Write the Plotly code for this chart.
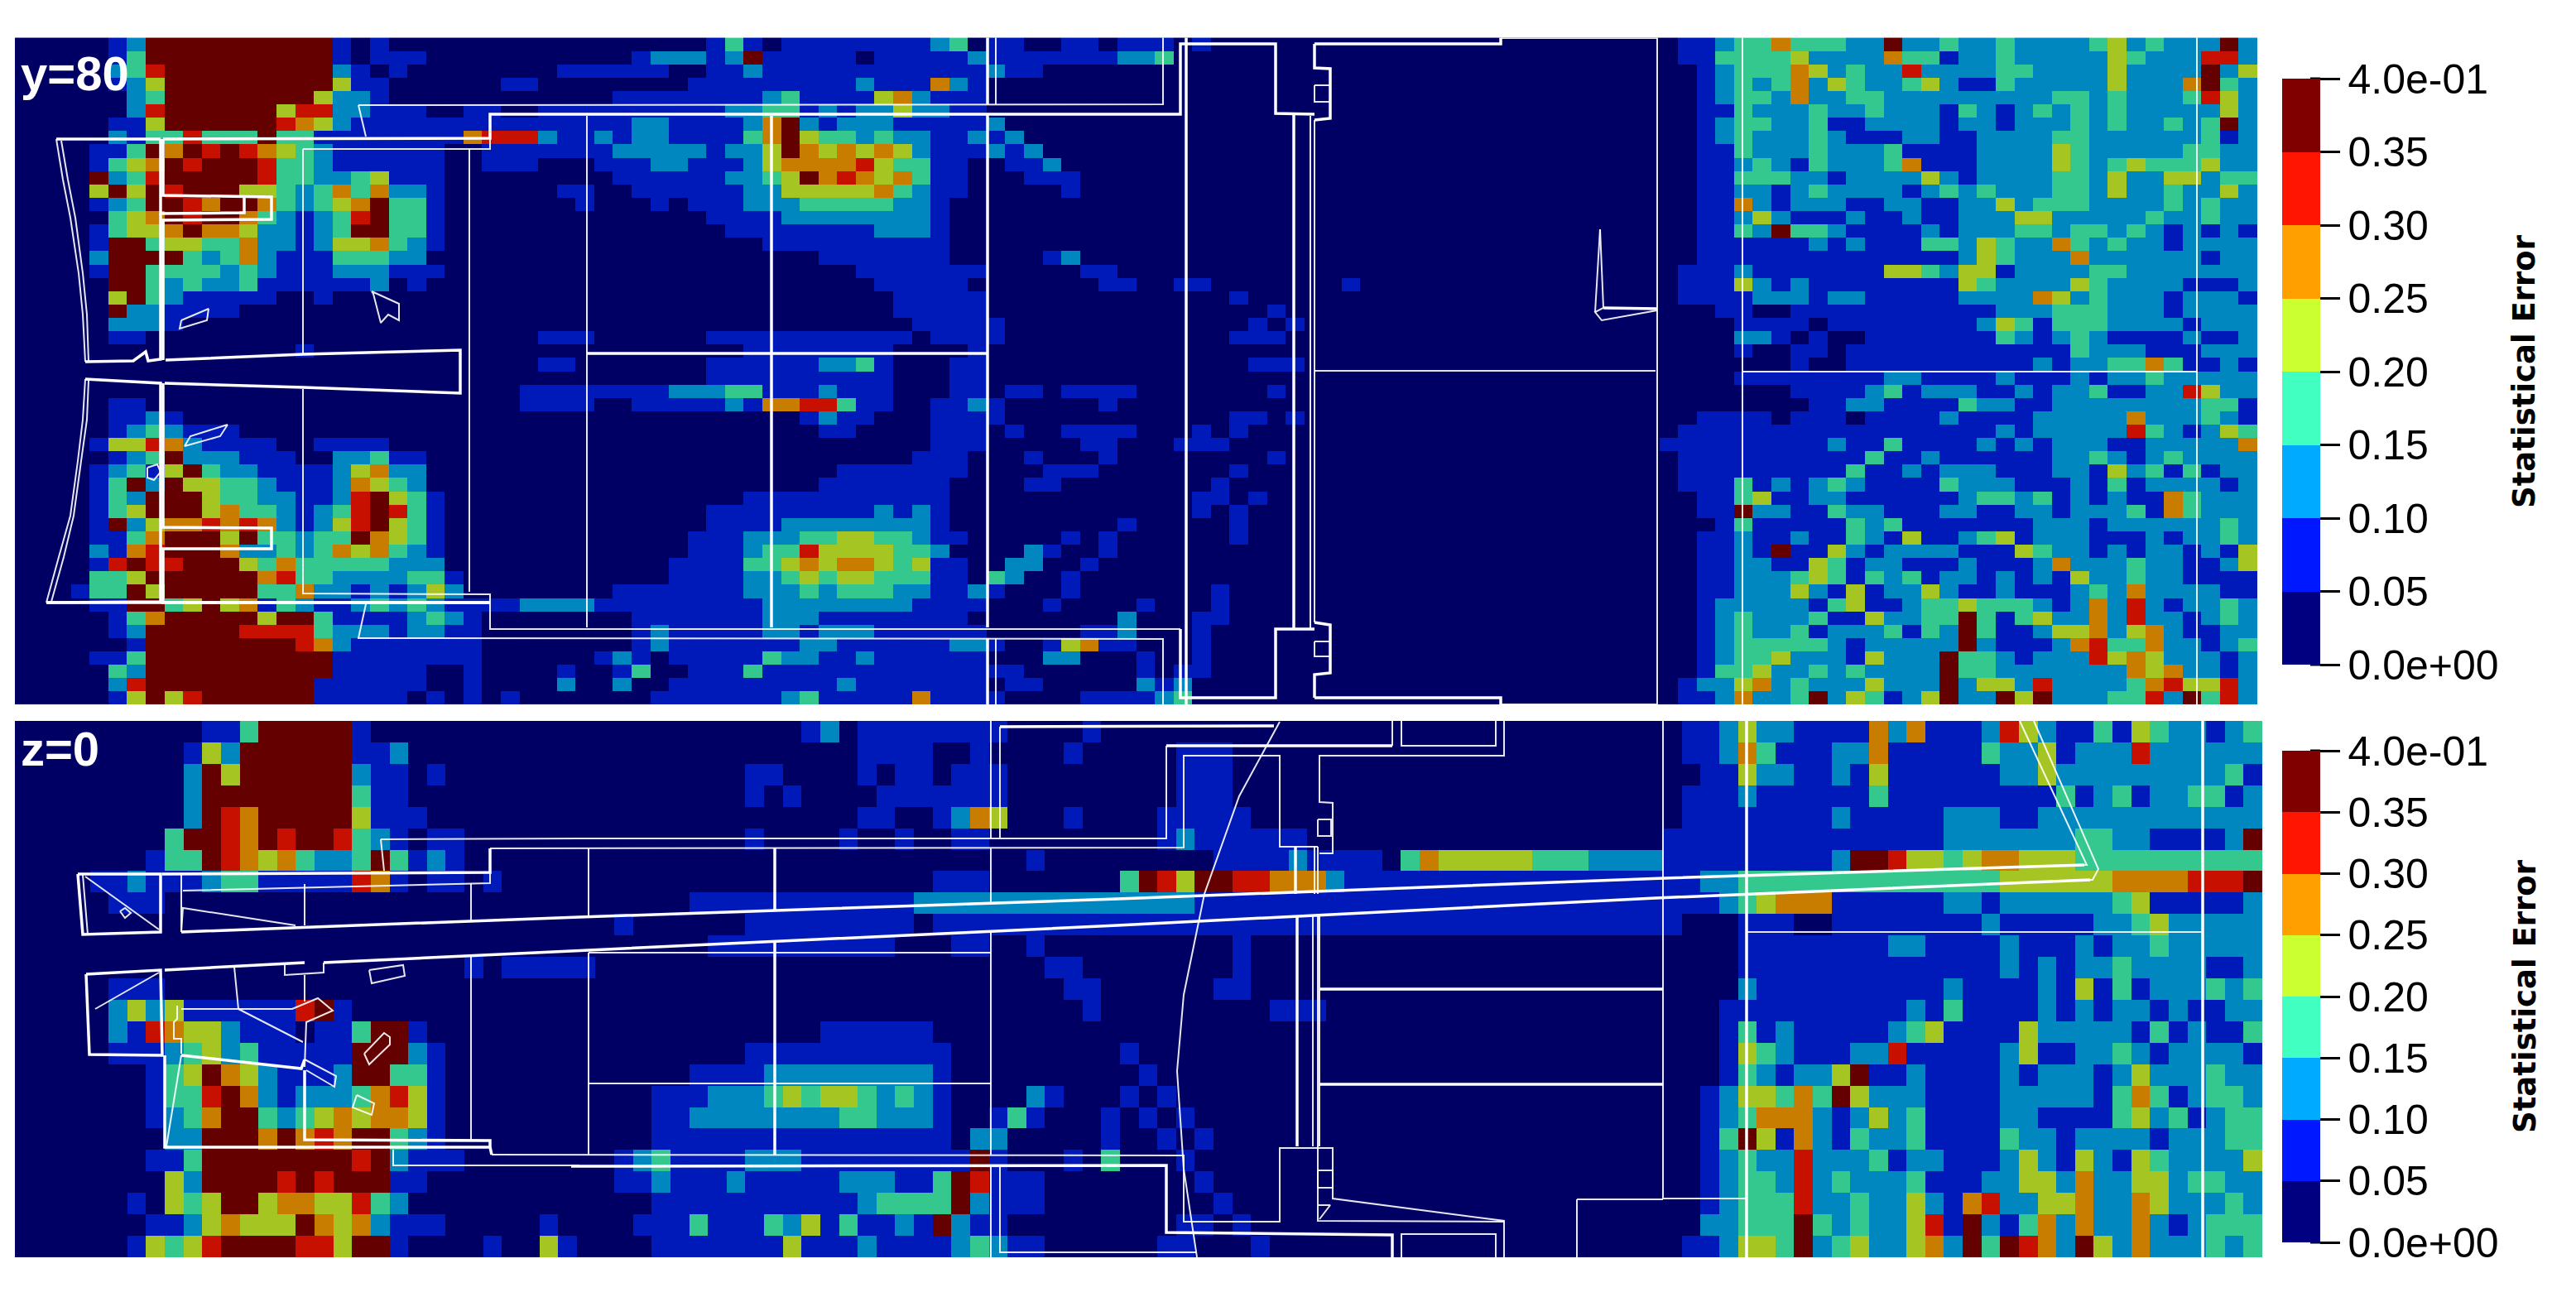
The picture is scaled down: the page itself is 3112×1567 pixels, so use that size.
import plotly.graph_objects as go

W, H = 3112, 1567
N_COLS = 120
BAND_STEP = 0.05

# colour class of every cell (class k means value in [k*0.05,(k+1)*0.05))
top_left_rows = [
"5:1 6:2 7-16:7 17:1 19:1 37:1 38:3 39:1 41-48:1 49:2 50:3 52-53:1 56-57:1 59-61:1 63:1",
"5:1 6:3 7-16:7 17:1 19-21:1 33:1 34-36:2 37:1 38:2 39:7 40-44:1 46-50:1 51:2 52-58:1 59-60:2 61:3",
"5:2 6:3 7:6 8-16:7 17:2 18:1 20:1 29:1 30-34:1 37-38:1 39:2 40-51:1 52:2 53-54:1",
"5:1 6:2 7:4 8-16:7 17:4 18-19:1 26-27:1 36-44:1 45:2 46-48:1 49:5 50:2 51:1",
"6:2 7:3 8-15:7 16:4 17-18:2 19:1 32-39:1 40:2 41:3 42-45:1 46:4 47:5 48:2 49-51:1",
"6:2 7:6 8-13:7 14:4 15-16:6 17-18:2 19-21:1 24-25:1 28-29:1 30-37:1 38-39:2 40-41:3 42:1 43:2 44:1 45-46:2 47:4 48-49:2 50-51:1",
"5-6:1 7:4 8-13:7 14:6 15:5 16:4 17:2 18-29:1 30-32:1 33-34:2 35-38:1 39:2 40:5 41:7 42:2 43:1 44-46:2 47-51:1 52:2",
"5:2 6:1 7-8:3 9:6 10-12:3 13:7 14-15:3 16-23:1 24:5 25-27:6 28:2 29-30:1 31:2 32:1 33-34:2 35-38:1 39:3 40:5 41:7 42:4 43-44:3 45:2 46:3 47-48:2 49-50:1 51:2 52:1 53:2",
"4-5:1 6:3 7:7 8:5 9:7 10:6 11:7 12:6 13:5 14:4 15:3 16:2 17-22:1 25-29:1 30-31:1 32-36:2 37:1 38-39:2 40:4 41:7 42:5 43:4 44:5 45:4 46:5 47:4 48:2 49-51:1 52:2 53:1 54:2",
"4:1 5:3 6:4 7:5 8:7 9:6 10-12:7 13:6 14-15:3 16:2 17-22:1 25-27:1 31-33:1 34-35:2 36-38:1 39:2 40:4 41-44:5 45:6 46:4 47-48:3 49-50:1 53-54:1 55:2",
"4:7 5:2 6:3 7:6 8-12:7 13:6 14-15:3 16-17:2 18:3 19:4 20-22:1 32-37:1 38-39:2 40:3 41:4 42:7 43:5 44:6 45:5 46:4 47:5 48:3 49-50:1 54-56:1",
"4:4 5:7 6:4 7:7 8:6 9-11:7 12-13:4 14:3 15:2 16:3 17:5 18:3 19:5 20-21:2 22:1 29-30:1 33-38:1 39-40:2 41-45:4 46:5 47:3 48:2 49-50:1 56:1",
"4:1 5:2 6:3 7-8:7 9:6 10:5 11-12:7 13:5 14:3 15:2 16:3 17:4 18:5 19:7 20-21:3 22:1 30:1 34:1 36-38:1 39-41:2 42-46:3 47-48:2 49:1",
"5:3 6:4 7:5 8:7 9:6 10-11:7 12:5 13:3 14:2 15:1 16:2 17:3 18:6 19:7 20-21:3 22:1 37-40:1 41-48:2 49:1",
"4:1 5:3 6-7:4 8:5 9:7 10-11:5 12:4 13-14:2 15:1 16:2 17:3 18-19:7 20-21:3 22:1 38-45:1 46-48:2 49:1",
"4:1 5-6:7 7:3 8-9:4 10-11:3 12:5 13-14:2 15:1 16:2 17-18:4 19:5 20:3 21:2 22:1 40-49:1",
"4:2 5-8:7 9:3 10:2 11:3 12:5 13:2 14-16:1 17-19:3 20-21:2 43-49:1 55:1 56:2",
"4:1 5-6:7 7-10:3 11:2 12:3 13:2 14-16:1 17-19:2 20-22:1 45-51:1 57-58:1",
"5-6:7 7:3 8:2 9:3 10-11:2 12:3 13-18:1 19:2 21:1 46-50:1 58:1 59:1 62-63:1 71:1",
"5:4 6:7 7:3 8:2 9-13:1 16:1 47-51:1 65:1",
"5:7 6-7:2 8-11:1 47-51:1 67:1",
"5-7:2 8:1 48-51:1 52:1 66:1 68:1",
"5-6:1 28-30:1 37-47:1 49-52:1 65-67:1",
"15:1 39-46:1 51:1",
"28-29:1 37-42:1 43-44:2 45:3 46:1 50-51:1 66-68:1",
"37-46:1 50-51:1",
"27-29:1 30-34:1 35-37:2 38-39:3 40-42:1 43:2 44-46:1 50-51:1 53-54:1 56-58:1 59:1 67:1",
"5-6:1 27-29:1 30:1 33-37:1 38:2 39:1 40-41:5 42-43:6 44:3 45-46:1 49-50:1 51:2 52:1 58:1",
"5-6:1 7:2 8:1 42:1 43:2 44-45:1 49-52:1 65-66:1 68:1",
"5:1 6:2 7:3 8:2 9-11:1 43-44:1 49-51:1 53:1 56-58:1 59:1 63:1 65:1",
"4:1 5-6:4 7:6 8:5 9:2 10-13:1 16-19:1 49-51:1 57-58:1 62-64:1",
"5:1 6:2 7:3 8:7 9-11:2 12-14:1 17-18:2 19:3 20-21:1 48-50:1 54:1 58:1 67:1",
"4:1 5:2 6:3 7:1 8:4 9:7 10:3 11-12:2 13-16:1 17:2 18:4 19:5 20-21:2 44-50:1 55-57:1 65:1",
"4:1 5:3 6:7 7:2 8:7 9-10:4 11-12:3 13:2 14-16:1 17:2 18:5 19:4 20:3 21:2 43-49:1 54-55:1 64:1",
"4:1 5:3 6:2 7-9:7 10:4 11-12:3 13-14:2 15-16:1 17:2 18:6 19:7 20:4 21:3 22:1 39-49:1 63-64:1 66:1",
"4:1 5:3 6:4 7-9:7 10:4 11:5 12-13:3 14:2 15:1 16:2 17:3 18:6 19:7 20:6 21:3 22:1 37-45:1 46:2 47:1 48:2 49:1 63:1 65:1",
"4:1 5:7 6:2 7:4 8-9:5 10:6 11:5 12:6 13:5 14:2 15:1 16:2 17:4 18:6 19:7 20:4 21:3 22:1 37-40:1 41-48:2 49:1 59:1 65:1",
"4-5:1 6:3 7:5 8-10:7 11:4 12:7 13-14:3 15:2 16-17:3 18:7 19:5 20:4 21:3 22:1 36-38:1 39-41:2 42-43:3 44-45:4 46-47:3 48:2 49-50:1 56:1 58:1 65:1",
"4:2 5:1 6:5 7:6 8-10:7 11:5 12-13:2 14:3 15:2 16:3 17:5 18:4 19:5 20:3 21:2 22:1 36-38:1 39:2 40-41:3 42:6 43-46:4 47-48:3 49:2 54:2 55:1 58:1",
"4:1 5:6 6:7 7-8:6 9-11:7 12:4 13:3 14:5 15-19:3 20-22:2 35-38:1 39-40:3 41:4 42:5 43:4 44-45:5 46:4 47:3 48:4 49-50:1 53-54:2 57:1",
"4-5:3 6:4 7-12:7 13:5 14:6 15-16:3 17-20:2 21-22:3 23:1 35-38:1 39-40:2 41:3 42:4 43:3 44-45:4 46-48:3 49-50:1 52:3 53:2 56:1",
"3:1 4-5:3 6:7 7:4 8-12:7 13-14:3 15:5 16-17:2 18:1 19:2 20:1 21:2 22:4 23:2 32-38:1 39-41:2 42:3 43:2 44-46:3 47-48:2 49-50:1 51:2 52:1 56:1 64:1",
"4-5:1 6-7:7 8:3 9:4 10:7 11:4 12:5 13:1 14:3 15:2 16-17:1 18:2 19:3 20:2 21:3 22:2 23-26:1 27-30:2 31-39:1 40-47:2 48-51:1 55:1 60:1 64:1",
"5:1 6:3 7:5 8-12:7 13:4 14-15:7 16:3 17-20:1 21:2 22:3 23:2 24:1 33-39:1 40-42:2 43-50:1 59:2 63-64:1",
"5:1 6:2 7-11:7 12-15:6 16:3 17-19:2 20:1 21-22:2 23-24:1 33:1 34:2 35-39:1 40-41:2 42:1 43-45:2 46-51:1 57-58:1 59:2 63:1",
"6:1 7-14:7 15:6 16:5 17:2 18-24:1 33:1 34:2 35-41:1 42-43:2 44-49:1 50-51:2 52:1 55:1 56:4 57:5 58:1 59:1 63:1",
"4-5:1 6:3 7-16:7 17-24:1 31:1 32:2 33:1 35-39:1 40:3 41-42:2 43-44:1 45:2 46-51:1 55-56:2 60:1 63:1",
"5:3 6:2 7-16:7 17-21:1 24:1 29:1 32:1 33:3 36-38:1 39:3 40-51:1 52-53:1 60:1 62-63:1",
"5:2 6:6 7-15:7 16-21:1 24:1 29:2 32:2 35-43:1 44:2 45-51:1 53-54:1 60:2 61:1 62:2",
"5:1 6:4 7:7 8:4 9:6 10-15:7 16-20:1 22:1 24:1 26:1 34-40:1 41:2 42:3 43-47:1 48:5 49-52:1 57-58:1 59-60:1 61:2 62:3",
]

# columns 88..119, one digit per cell
top_right_rows = [
"01123353 33227223 22322223 42322272",
"01133334 22225331 22322222 43222662",
"00123335 42322622 22332222 42222724",
"00123235 24322342 11322222 42225732",
"00123325 22332222 22222332 32223642",
"00113222 32232221 32123232 32222242",
"00123322 31122221 22122232 32232372",
"00123222 32111221 12222332 22222312",
"00113222 32223111 12222432 22223322",
"00112321 32223511 12222432 34333422",
"00113332 21222242 12222332 42244233",
"00112212 32222123 23222332 42232242",
"00115212 22112211 22423332 22232322",
"00112421 11211211 22244222 22322322",
"00113273 32111121 22233233 23212121",
"00111111 21211133 24322532 32212222",
"00111111 11111111 24322252 22222122",
"01112111 11114432 44122223 32222222",
"01114212 11111111 43222243 22221112",
"01111222 12211111 22225423 22212221",
"00011001 11111111 11222333 22212222",
"00001111 01111111 12431333 22221222",
"00002210 10011111 11321232 11112112",
"00001001 10111111 11111132 22111222",
"00000001 00111111 11112122 33531121",
"00001111 11112211 11211121 22322222",
"00000001 11123122 21121223 11226422",
"00000000 11221111 32211222 22222331",
"00111101 11011112 11112222 25222321",
"01111111 11111111 11212222 26321243",
"11111111 12113111 12121222 11222225",
"01111111 11131121 11111223 21232222",
"01111111 11311212 22111221 42313122",
"01113121 23211113 22211121 31222212",
"00113411 22111111 23323121 21153222",
"00117221 13221112 21122122 23153222",
"00013111 11323111 11112221 22222232",
"00112112 11321411 23412221 11212232",
"00112171 14212222 11143221 21221214",
"00112211 43122111 21112522 23221124",
"00112223 43132312 21212142 23221111",
"00112224 21412242 11211123 25222211",
"00122222 13411233 43332125 26212232",
"00123222 31142233 73134225 26221232",
"00123223 12223132 73112445 24521122",
"00123333 32122222 72111256 33522123",
"00123342 22142227 33212226 45422212",
"00133422 32322227 33222222 25452212",
"01224523 22242227 24426222 23564462",
"01125223 72431247 22747222 33627362",
]

bottom_left_rows = [
"10-11:1 12:3 13-17:7 18:1 42:1 43:2 45-52:1 57:1",
"9:1 10:4 11:2 12-17:7 18-19:1 20:2 45-48:1 51:1 56:1 62-64:1",
"9:2 10:7 11:4 12-17:7 18:2 19-20:1 22:1 39-40:1 45:1 47-48:1 50-52:1 62-64:1",
"9:2 10-17:7 18:3 19-20:1 39:1 41:1 46-52:1 62-64:1",
"9:2 10:7 11:6 12:5 13-17:7 18:4 19-21:1 45-46:1 49:1 50:2 51:5 52:4 56:1 61-65:1",
"8:3 9-10:7 11:6 12:5 13:7 14:6 15-16:7 17:6 18:3 19:2 20:1 22-23:1 39:1 44:1 47:1 50-51:1 61:1 62:2 63-68:1",
"7:1 8-9:3 10:7 11:6 12:5 13:4 14:5 15:3 16-17:2 18:3 19:7 20:3 21:1 22:2 23:1 54:1 64-67:1 68:2 69-72:1 74:3 75:5 76-80:4 81-83:3 84-87:2",
"4-5:1 6:2 7-9:1 10:2 11-12:3 13-17:1 18:6 19:5 20:1 22-23:1 25:1 49-51:1 59:3 60:7 61:6 62:4 63-64:7 65-66:6 67-69:5 70:2 71-87:1",
"5-7:1 36-47:1 48-58:2 59-62:2 63-87:1",
"32:1 39-47:1 49-58:1 59-87:1",
"37-46:1 50-51:1 54:1 65:1",
"24:1 26-30:1 55-56:1 65:1",
"5-7:1 56-57:1 64-65:1",
"5:2 6:4 7:2 8:4 9-14:1 15:6 16:7 17:1 57:1 67-69:1",
"5:2 6:1 7:6 8:5 9-10:4 11:2 12-14:1 16-17:1 18:3 19-20:7 21:1 43-48:1",
"5-7:1 8:2 9:3 10:4 11:2 12:3 13-17:1 18-20:7 21:2 22:1 39-49:1 59:1",
"7:1 8:3 9:4 10:7 11:5 12:4 13:2 14-16:1 17:2 18-19:7 20-21:3 22:1 36-39:1 40-48:2 49:1 60:1",
"7:1 8-9:3 10:6 11:7 12:5 13:2 14:1 15-17:2 18:3 19:5 20:6 21:4 22:1 34-36:1 37-39:2 40:3 41:4 42:3 43-44:4 45:3 46:2 47:3 48:2 49:1 54:2 55:1 59:1 61:1",
"7:1 8:2 9:3 10:5 11-12:7 13:3 14:2 15:3 16:4 17:5 18:4 19-20:5 21:4 22:1 34-35:1 36-43:2 44-45:3 46-48:2 49:1 52:1 53:3 54:1 58:1 60:1 62:1",
"8-9:2 10-12:7 13:5 14:7 15:5 16:6 17:5 18-19:7 20:3 21:2 22:1 34-49:1 51-52:2 58:1 61:1 63:1",
"7-8:1 9:3 10-17:7 18:6 19:7 20:2 21-23:1 32:1 33:2 34:3 35-38:1 39-41:2 42-50:1 51:7 52:1 56:1 58:3 62:1",
"8:4 9:2 10-13:7 14:6 15:7 16:6 17-19:7 20-21:1 32-33:1 34:2 35-37:1 38:2 39-43:1 44-46:2 47-48:1 49:3 50:7 51:6 52-54:1 63:1",
"6:1 8:4 9:3 10:4 11-12:7 13:4 14-15:5 16-17:4 18:6 19:3 20:2 34-44:1 45:2 46-49:3 50:7 51:2 52-54:1 64:1",
"7-8:1 9:2 10:4 11:5 12-14:4 15:7 16:5 17:4 18:5 19:2 20-22:1 28:1 33-35:1 36:3 37-39:1 40:3 41:2 42:4 43:1 44:3 45-46:1 47:2 48:1 49:7 50:2 51-52:1 62-63:1 65:1",
"6:1 7:4 8:3 9:4 10:6 11-14:7 15-16:6 17:4 18-19:7 20:1 25:1 28:4 29:1 34-40:1 41:4 42-44:1 45:2 46-49:1 50:2 51:3 52:2 53-54:1 61-62:1 66:1",
]

bottom_right_rows = [
"01124221 11152511 12642113 14322123",
"01125311 12251111 13224122 26222222",
"00114221 12141111 11224222 22222231",
"01112111 11131111 11111312 31223312",
"01111111 12111112 22112222 22222222",
"11111111 11111112 22222233 22111127",
"11111111 12776443 45544433 33333333",
"11223333 33333333 33444444 55556667",
"11123455 51111112 21222222 34111112",
"10001110 01111111 12111112 23422222",
"00001111 11112211 11211121 22322222",
"00001111 11111111 11212122 32222112",
"00002111 11111112 11112141 31222323",
"00011111 11111213 11112121 22121122",
"00013121 11112341 11142222 21312113",
"00014321 11226111 11241122 32122221",
"00013212 24711211 11212221 24222322",
"00124435 37422211 11222221 35312332",
"00123555 21242311 11221111 34231233",
"00137415 21322311 11322122 22122233",
"00123226 22231221 11242142 14322224",
"00123326 23222311 12244252 24423322",
"00123336 22322421 56224452 25422232",
"00223337 32322461 72135252 25212333",
"01124437 23422452 73765274 25222323",
]

tick_values = [0.0, 0.05, 0.10, 0.15, 0.20, 0.25, 0.30, 0.35, 0.40]
tick_labels = ["0.0e+00", "0.05", "0.10", "0.15", "0.20", "0.25", "0.30", "0.35", "4.0e-01"]
bar_colors = ["#000080", "#0018ff", "#00aaff", "#40ffc0", "#ccff30", "#ffa000", "#ff1500", "#800000"]
map_colors = ["#000064", "#0019b9", "#0087bf", "#34c88f", "#a5c522", "#c87d00", "#c81000", "#640000"]
bar_title = "Statistical Error"

# white section outlines of the geometry, in reference pixels
top_thick = [
 [(197,168),(592,167),(592,138),(1426,138),(1426,53),(1541,53),(1541,137),(1588,138)],
 [(194,168),(68,168)],
 [(197,168),(197,236),(328,238),(328,265),(197,266),(197,435)],
 [(194,168),(194,258),(295,257),(295,238)],
 [(103,437),(161,436),(176,425),(179,436),(194,434),(194,258)],
 [(200,435),(366,428),(556,423),(556,475),(366,468),(199,463)],
 [(103,458),(194,463),(194,727),(56,728)],
 [(197,463),(197,637),(328,638),(328,663),(197,663),(197,728),(592,728)],
 [(56,728),(592,728)],
 [(932,140),(932,758)],
 [(709,427),(1193,427)],
 [(1193,45),(1193,126)], [(1193,138),(1193,758)], [(1193,771),(1193,851)],
 [(1433,45),(1433,851)],
 [(1563,138),(1563,760)],
 [(1426,760),(1426,843),(1541,843),(1541,760),(1588,760)],
 [(1588,53),(1813,53),(1813,45)],
 [(1588,843),(1813,843),(1813,851)],
 [(1588,53),(1588,82),(1607,83),(1607,143),(1588,145)],
 [(1588,752),(1607,755),(1607,813),(1588,815),(1588,843)],
 [(1937,372),(2002,373)],
]
top_thin = [
 [(68,168),(76,217),(85,263),(95,330),(100,380),(103,437)],
 [(74,170),(82,217),(91,263),(100,330),(105,380),(107,437)],
 [(103,458),(100,507),(94,557),(85,623),(71,673),(56,728)],
 [(107,460),(105,507),(98,557),(89,623),(77,673),(62,727)],
 [(433,127),(1405,126),(1405,45)],
 [(433,127),(442,165)],
 [(366,180),(592,180),(592,167)],
 [(366,180),(366,427)], [(567,180),(567,715)], [(366,470),(366,717),(592,718),(592,728)],
 [(709,140),(709,758)],
 [(592,728),(592,760),(1426,760)],
 [(442,730),(433,771),(1405,772),(1405,851)],
 [(1203,45),(1203,126)], [(1203,771),(1203,851)],
 [(1583,140),(1583,760)], [(1588,145),(1588,752)],
 [(1588,448),(2000,448)],
 [(1813,46),(2002,46)], [(1813,851),(2002,851)],
 [(2002,45),(2002,851)],
 [(2105,45),(2105,851)], [(2654,45),(2654,851)], [(2105,449),(2654,449)],
 [(1588,103),(1607,103),(1607,123),(1588,123),(1588,103)],
 [(1588,775),(1607,775),(1607,793),(1588,793),(1588,775)],
 [(219,387),(252,373),(250,387),(217,397),(219,387)],
 [(449,352),(482,367),(482,387),(469,380),(460,390),(451,355),(449,352)],
 [(275,513),(266,527),(223,539),(230,527),(275,513)],
 [(178,565),(190,561),(194,570),(186,580),(178,577),(178,565)],
 [(1933,277),(1937,372),(1927,377),(1935,387),(2002,375)], [(1933,277),(1927,377)],
]
bottom_thick = [
 [(196,1056),(592,1054),(592,1025)],
 [(1409,901),(1682,901)],
 [(94,1056),(194,1056),(194,1126),(100,1129),(94,1056)],
 [(219,1126),(700,1108),(1350,1086),(2010,1061),(2518,1045)],
 [(690,1149),(1350,1118),(2000,1085),(2525,1063)],
 [(199,1172),(368,1163)], [(391,1163),(690,1149)],
 [(104,1177),(194,1172),(196,1275),(108,1274),(104,1177)],
 [(199,1275),(199,1386),(592,1386),(592,1378),(368,1377),(368,1293)],
 [(219,1275),(364,1291),(368,1280)],
 [(592,1386),(594,1395)],
 [(936,1025),(936,1099)], [(936,1138),(936,1395)],
 [(2110,871),(2110,1519)], [(2661,871),(2661,1519)],
 [(1565,1023),(1565,1080)], [(1567,1107),(1567,1385)],
 [(1594,1195),(2009,1195)],
 [(1594,1310),(2009,1310)],
 [(690,1409),(1409,1408),(1409,1489),(1682,1492),(1682,1519)],
 [(1208,878),(1539,877)],
]
bottom_thin = [
 [(100,1057),(106,1129)], [(103,1059),(192,1123)],
 [(145,1101),(151,1097),(158,1103),(151,1109),(145,1101)],
 [(221,1076),(592,1067),(592,1054)], [(569,1068),(569,1112)], [(368,1068),(368,1118)],
 [(219,1126),(221,1097),(357,1118)], [(219,1056),(219,1126)],
 [(460,1014),(700,1013),(1197,1013)], [(460,1014),(464,1052)],
 [(115,1219),(192,1175)],
 [(344,1166),(344,1178),(391,1175),(391,1163)],
 [(283,1168),(288,1219)], [(219,1219),(353,1219),(384,1206),(402,1221),(370,1235),(368,1289)],
 [(288,1219),(366,1259)], [(368,1178),(368,1210)],
 [(368,1280),(406,1300),(404,1313),(370,1293)],
 [(219,1275),(201,1385)], [(569,1155),(569,1377)],
 [(214,1215),(214,1231),(210,1235),(210,1255),(219,1255),(219,1273)],
 [(594,1395),(1430,1396),(1430,1476),(1546,1476),(1546,1387),(1610,1387),(1610,1448),(1817,1475),(1817,1519)],
 [(475,1389),(475,1408),(700,1408)],
 [(446,1172),(487,1166),(489,1179),(449,1188),(446,1172)],
 [(440,1273),(464,1248),(471,1253),(471,1262),(446,1286),(440,1273)],
 [(431,1323),(452,1333),(449,1347),(426,1338),(431,1323)],
 [(592,1025),(1430,1024),(1430,913),(1546,913),(1546,1023),(1592,1023)],
 [(1197,871),(1197,1013)], [(1197,1025),(1197,1090)], [(711,1025),(711,1107)],
 [(711,1151),(1197,1151)], [(711,1151),(711,1395)], [(1197,1126),(1197,1395)], [(711,1309),(1197,1309)],
 [(1197,1410),(1197,1519)], [(1208,1410),(1208,1513),(1445,1513)],
 [(1208,878),(1208,1013)],
 [(1409,901),(1409,1013),(1197,1013)],
 [(1682,871),(1682,901)], [(1693,871),(1693,901),(1807,901),(1807,871)], [(1817,871),(1817,913),(1594,913),(1594,969),(1610,970),(1610,1031),(1594,1031)],
 [(1592,990),(1608,990),(1608,1010),(1592,1010),(1592,990)],
 [(1546,872),(1497,962),(1455,1080),(1430,1202),(1422,1294),(1430,1412),(1446,1519)],
 [(1588,1023),(1588,1080)], [(1592,1023),(1592,1080)],
 [(1586,1107),(1586,1385)], [(1592,1107),(1592,1475),(1817,1476)],
 [(1594,1107),(1594,1385)],
 [(1592,1414),(1610,1414),(1610,1435),(1592,1435),(1592,1414)],
 [(1592,1456),(1607,1456),(1594,1473)],
 [(1693,1519),(1693,1491),(1807,1491),(1807,1519)],
 [(2009,871),(2009,1448),(2110,1448)], [(1905,1449),(2009,1449)], [(1905,1449),(1905,1519)],
 [(2110,1126),(2661,1126)],
 [(2440,871),(2521,1045),(2518,1045)], [(2457,871),(2535,1050),(2528,1063),(2525,1063)],
]


def decode(left_rows, right_rows):
    grid = []
    for left, right in zip(left_rows, right_rows):
        row = [0] * N_COLS
        for token in left.split():
            span, val = token.split(":")
            a, _, b = span.partition("-")
            for c in range(int(a), int(b or a) + 1):
                row[c] = int(val)
        digits = right.replace(" ", "")
        assert len(digits) == 32
        row[88:120] = [int(d) for d in digits]
        grid.append([(k + 0.5) * BAND_STEP for k in row])
    return grid


def step_scale(colors):
    out = []
    n = len(colors)
    for i, c in enumerate(colors):
        out += [[i / n, c], [(i + 1) / n, c]]
    return out


def outline_xy(polys):
    xs, ys = [], []
    for poly in polys:
        for x, y in poly:
            xs.append(x)
            ys.append(y)
        xs.append(None)
        ys.append(None)
    return xs, ys


panels = [
    dict(name="top", xa="x", ya="y", box=(18, 2727, 45.5, 851), grid=decode(top_left_rows, top_right_rows),
         thick=top_thick, thin=top_thin, bar=(95, 803), label="y=80", label_y=55),
    dict(name="bottom", xa="x2", ya="y2", box=(18, 2733, 871, 1519), grid=decode(bottom_left_rows, bottom_right_rows),
         thick=bottom_thick, thin=bottom_thin, bar=(907, 1501), label="z=0", label_y=871),
]

BAR_X0, BAR_X1 = 2757, 2803
fig = go.Figure()
shapes, annotations = [], []
for p in panels:
    x0, x1, y0, y1 = p["box"]
    nrows = len(p["grid"])
    xe = [x0 + (x1 - x0) * i / N_COLS for i in range(N_COLS + 1)]
    ye = [y0 + (y1 - y0) * i / nrows for i in range(nrows + 1)]
    bt, bb = p["bar"]
    fig.add_trace(go.Heatmap(
        x=xe, y=ye, z=p["grid"], xaxis=p["xa"], yaxis=p["ya"], zmin=0, zmax=0.4,
        colorscale=step_scale(bar_colors), hoverinfo="skip",
        colorbar=dict(
            x=BAR_X0 / W, xanchor="left", xpad=0, ypad=0, thickness=BAR_X1 - BAR_X0, thicknessmode="pixels",
            y=1 - bb / H, yanchor="bottom", len=(bb - bt) / H, lenmode="fraction",
            outlinewidth=0, tickmode="array", tickvals=tick_values, ticktext=tick_labels,
            ticks="outside", ticklen=24, tickwidth=3, tickcolor="black",
            tickfont=dict(family="Liberation Sans", size=50, color="black"),
        ),
    ))
    fig.add_trace(go.Heatmap(
        x=xe, y=ye, z=p["grid"], xaxis=p["xa"], yaxis=p["ya"], zmin=0, zmax=0.4,
        colorscale=step_scale(map_colors), showscale=False, hoverinfo="skip",
    ))
    for polys, w, col in ((p["thick"], 3.5, "white"), (p["thin"], 2, "rgba(255,255,255,0.9)")):
        xs, ys = outline_xy(polys)
        fig.add_trace(go.Scatter(x=xs, y=ys, xaxis=p["xa"], yaxis=p["ya"], mode="lines",
                                 line=dict(color=col, width=w), hoverinfo="skip", showlegend=False))
    for v in tick_values:
        yp = bb - (bb - bt) * v / 0.4
        shapes.append(dict(type="line", xref="paper", yref="paper", x0=(BAR_X1 - 12) / W, x1=BAR_X1 / W,
                           y0=1 - yp / H, y1=1 - yp / H, line=dict(color="black", width=3)))
    annotations.append(dict(text="<b>%s</b>" % p["label"], xref="paper", yref="paper", x=24 / W, y=1 - p["label_y"] / H,
                            xanchor="left", yanchor="top", showarrow=False, borderpad=0,
                            font=dict(family="Liberation Sans", size=58, color="white")))
    annotations.append(dict(text="<b>%s</b>" % bar_title, xref="paper", yref="paper", x=3050 / W, y=1 - (bt + bb) / 2 / H,
                            xanchor="center", yanchor="middle", textangle=-90, showarrow=False, borderpad=0,
                            font=dict(family="DejaVu Sans", size=37, color="black")))


def axis(lo, hi, total, flip=False):
    dom = [lo / total, hi / total] if not flip else [1 - hi / total, 1 - lo / total]
    return dict(domain=dom, range=[hi, lo] if flip else [lo, hi], visible=False, showgrid=False, zeroline=False, fixedrange=True)


fig.update_layout(
    width=W, height=H, margin=dict(l=0, r=0, t=0, b=0), paper_bgcolor="white", plot_bgcolor="white",
    showlegend=False, shapes=shapes, annotations=annotations,
    xaxis=axis(18, 2727, W), yaxis=axis(45.5, 851, H, True),
    xaxis2=axis(18, 2733, W), yaxis2=axis(871, 1519, H, True),
)
fig.write_html("out.html", config={"displayModeBar": False},
               post_script="document.body.style.margin='0';document.body.style.overflow='hidden';")
